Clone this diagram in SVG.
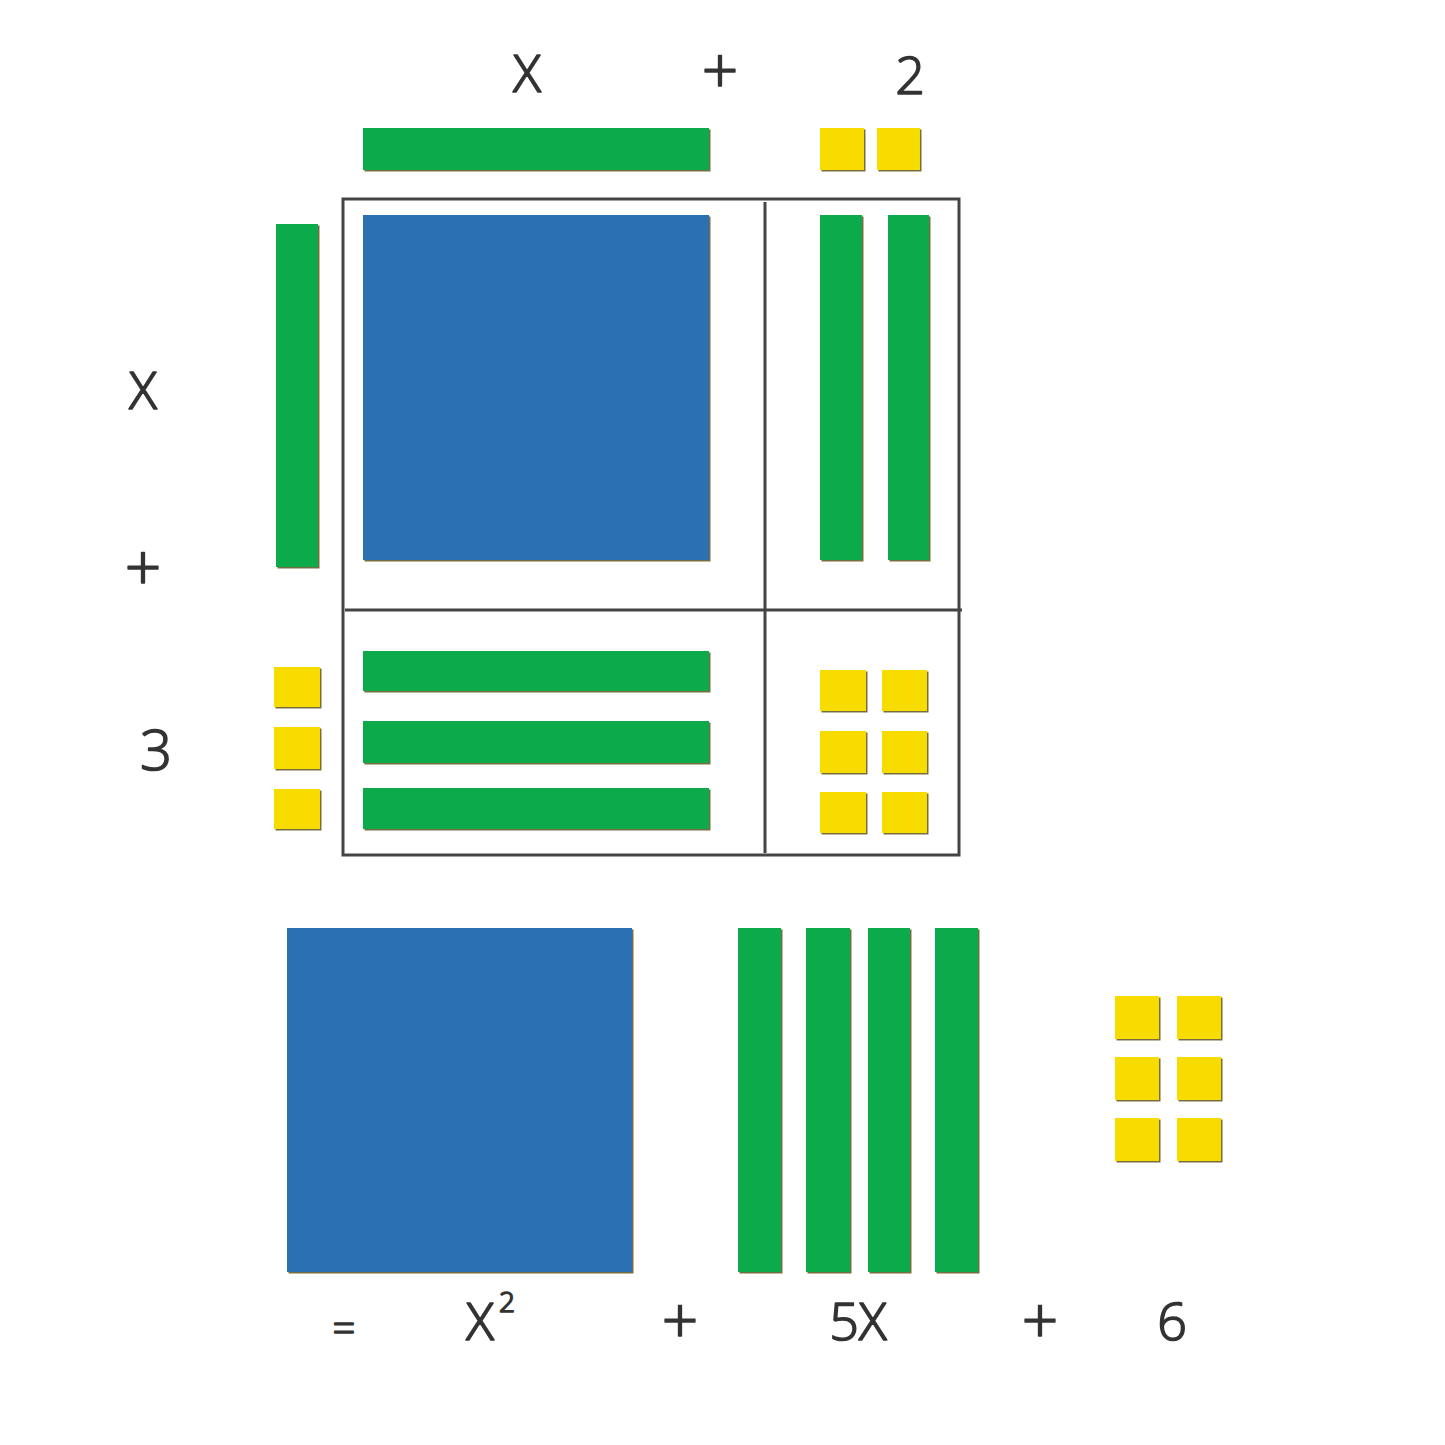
<svg xmlns="http://www.w3.org/2000/svg" width="1445" height="1445" viewBox="0 0 1445 1445">
<style>
.b{fill:#2a70b3}
.g{fill:#07aa4b}
.y{fill:#f8dc00}
.t{font-family:"Open Sans","Liberation Sans",sans-serif;font-weight:300;fill:#333;stroke:#333;stroke-width:1.6;stroke-linejoin:round;text-anchor:middle}
.f{fill:none;stroke:#444;stroke-width:3}
</style>
<defs>
<filter id="sh" x="-10%" y="-10%" width="130%" height="130%">
<feDropShadow dx="1.5" dy="1.5" stdDeviation="0.4" flood-color="#554a10" flood-opacity="0.8"/>
</filter>
</defs>
<rect width="1445" height="1445" fill="#fff"/>
<g id="frame">
<rect class="f" x="343" y="199" width="616" height="656"/>
<line class="f" x1="765" y1="202" x2="765" y2="853" stroke-width="2.5"/>
<line class="f" x1="345" y1="610" x2="962" y2="610" stroke-width="2.5"/>
</g>
<g id="top-factor" filter="url(#sh)">
<rect class="g" x="363" y="128" width="346" height="42"/>
<rect class="y" x="820" y="128" width="44" height="42"/>
<rect class="y" x="877" y="128" width="43" height="42"/>
</g>
<g id="left-factor" filter="url(#sh)">
<rect class="g" x="276" y="224" width="42" height="343"/>
<rect class="y" x="274" y="667" width="46" height="40"/>
<rect class="y" x="274" y="727" width="46" height="42"/>
<rect class="y" x="274" y="789" width="46" height="40"/>
</g>
<g id="product" filter="url(#sh)">
<rect class="b" x="363" y="215" width="346" height="345"/>
<rect class="g" x="820" y="215" width="42" height="345"/>
<rect class="g" x="888" y="215" width="41" height="345"/>
<rect class="g" x="363" y="651" width="346" height="40"/>
<rect class="g" x="363" y="721" width="346" height="42"/>
<rect class="g" x="363" y="788" width="346" height="41"/>
<rect class="y" x="820" y="670" width="46" height="41"/>
<rect class="y" x="882" y="670" width="45" height="41"/>
<rect class="y" x="820" y="731" width="46" height="42"/>
<rect class="y" x="882" y="731" width="45" height="42"/>
<rect class="y" x="820" y="792" width="46" height="41"/>
<rect class="y" x="882" y="792" width="45" height="41"/>
</g>
<g id="result" filter="url(#sh)">
<rect class="b" x="287" y="928" width="345" height="344"/>
<rect class="g" x="738" y="928" width="43" height="344"/>
<rect class="g" x="806" y="928" width="44" height="344"/>
<rect class="g" x="868" y="928" width="42" height="344"/>
<rect class="g" x="935" y="928" width="43" height="344"/>
<rect class="y" x="1115" y="996" width="44" height="43"/>
<rect class="y" x="1177" y="996" width="44" height="43"/>
<rect class="y" x="1115" y="1057" width="44" height="43"/>
<rect class="y" x="1177" y="1057" width="44" height="43"/>
<rect class="y" x="1115" y="1118" width="44" height="43"/>
<rect class="y" x="1177" y="1118" width="44" height="43"/>
</g>
<g id="labels">
<text class="t" x="527" y="92" font-size="52">X</text>
<text class="t" x="720" y="93" font-size="64">+</text>
<text class="t" x="910" y="94" font-size="52">2</text>
<text class="t" x="143" y="409" font-size="52">X</text>
<text class="t" x="143" y="590" font-size="64">+</text>
<text class="t" x="156" y="770" font-size="56">3</text>
<text class="t" x="344" y="1342" font-size="40">=</text>
<text class="t" x="480" y="1340" font-size="52">X</text>
<text class="t" x="507" y="1312" font-size="28" stroke-width="1">2</text>
<text class="t" x="680" y="1343" font-size="64">+</text>
<text class="t" x="858" y="1340" font-size="52">5X</text>
<text class="t" x="1040" y="1343" font-size="64">+</text>
<text class="t" x="1172" y="1340" font-size="52">6</text>
</g>
</svg>
